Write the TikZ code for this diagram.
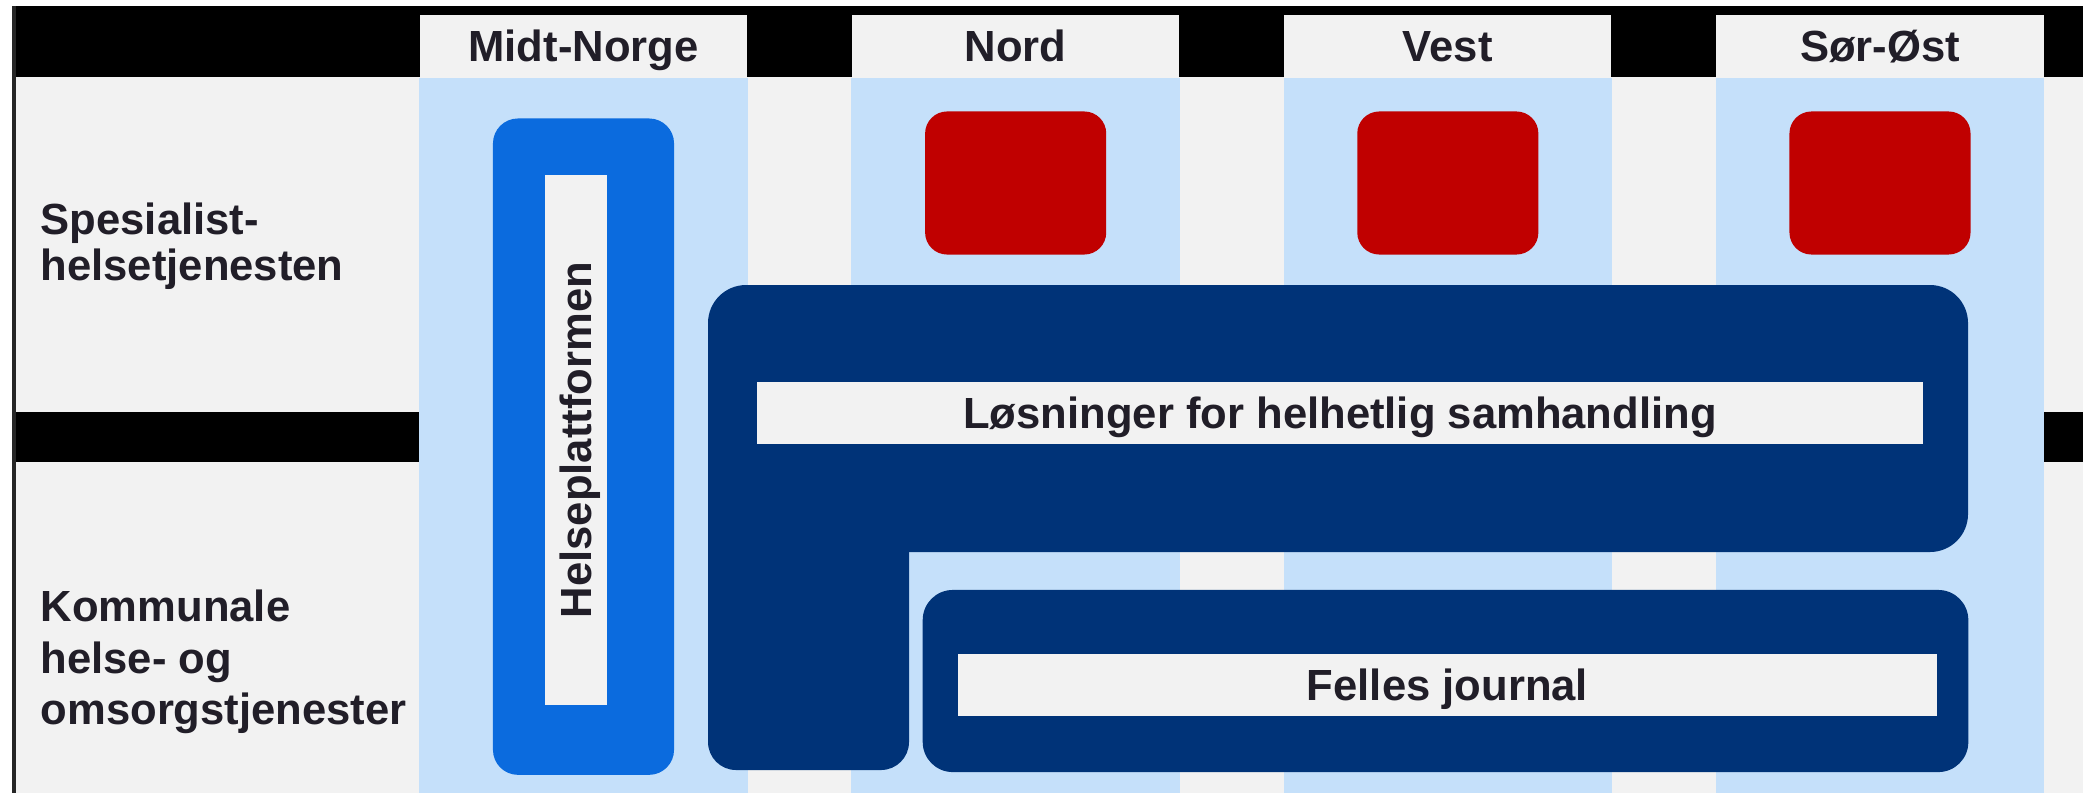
\documentclass[tikz,border=0pt]{standalone}
\usepackage{fontspec}
\setmainfont{Liberation Sans}
\usepackage{tikz}
\usetikzlibrary{positioning}
\definecolor{paper}{RGB}{242,242,242}
\definecolor{lane}{RGB}{197,224,250}
\definecolor{navy}{RGB}{0,51,120}
\definecolor{hpblue}{RGB}{11,107,222}
\definecolor{hfred}{RGB}{192,0,0}
\definecolor{ink}{RGB}{33,30,40}

\begin{document}
\begin{tikzpicture}
[ x=0.01cm, y=-0.01cm, node distance=1.035cm and 1.035cm,
		region/.style={rectangle,fill=paper,minimum width=3.27cm,minimum height=0.62cm,inner sep=0pt,text height=0.31cm,text depth=0pt,font=\bfseries\fontsize{12.4}{12.8}\selectfont,text=ink},
		hospital/.style={rectangle,fill=hfred,rounded corners=0.22cm,minimum width=1.81cm,minimum height=1.43cm,inner sep=0pt},
		platform/.style={rectangle,fill=hpblue,rounded corners=0.25cm,minimum width=1.81cm,minimum height=6.56cm,inner sep=0pt},
		container/.style={rectangle,fill=navy,rounded corners=0.3cm,inner sep=0pt},
		whitebar/.style={rectangle,fill=paper,minimum height=0.62cm,inner sep=0pt,text height=0.31cm,text depth=0pt,font=\bfseries\fontsize{12.4}{12.8}\selectfont,text=ink},
		rowlabel/.style={anchor=north west,inner sep=0pt,align=left,text=ink}]

	\useasboundingbox (0,0) rectangle (2083,793);
	\coordinate (floor) at (0,793);

	% background and black bands
	\fill[white] (0,0) rectangle (2083,793);
	\fill[paper] (14,6) rectangle (2083,793);
	\fill[black] (14,6) rectangle (2083,77);
	\fill[black] (14,412) rectangle (2083,462);
	\draw[black!85,line width=0.03cm] (14,6) -- (floor -| 14,0);

	% regions
	\node[region] (midt) at (583.5,46) {Midt-Norge};
	\node[region] (nord) [right=of midt] {Nord};
	\node[region] (vest) [right=of nord] {Vest};
	\node[region] (soraust) [right=of vest] {Sør-Øst};

	\fill[lane] (midt.south west) rectangle (midt.south east |- floor);
	\fill[lane] (nord.south west) rectangle (nord.south east |- floor);
	\fill[lane] (vest.south west) rectangle (vest.south east |- floor);
	\fill[lane] (soraust.south west) rectangle (soraust.south east |- floor);

	% row labels
	\node[rowlabel,font=\bfseries\fontsize{12.4}{13.2}\selectfont] (spesialist) at (40,202) {Spesialist-\\helsetjenesten};
	\node[rowlabel,font=\bfseries\fontsize{12.4}{14.7}\selectfont] (kommunal) at (40,589) {Kommunale\\helse- og\\omsorgstjenester};

	% hospital trusts
	\node[hospital] (nordhf) [below=0.33cm of nord] {};
	\node[hospital] (vesthf) [below=0.33cm of vest] {};
	\node[hospital] (soraushf) [below=0.33cm of soraust] {};

	% Helseplattformen
	\node[platform] (hplatform) [below=0.40cm of midt] {};
	\node[whitebar,rotate=90,minimum width=5.3cm] (hptext) at (576,440) {Helseplattformen};

	% samhandling and felles journal
	\fill[navy,rounded corners=0.38cm] (708,285) rectangle (1968,552);
	\fill[navy,rounded corners=0.28cm] (708,450) rectangle (909,770);
	\node[whitebar,minimum width=11.66cm] (samhandling) at (1340,413) {Løsninger for helhetlig samhandling};
	\node[container,minimum width=10.45cm,minimum height=1.82cm] (journal) at (1445.5,681) {};
	\node[whitebar,minimum width=9.79cm] (journaltext) at (1447.5,685) {Felles journal};
\end{tikzpicture}
\end{document}
